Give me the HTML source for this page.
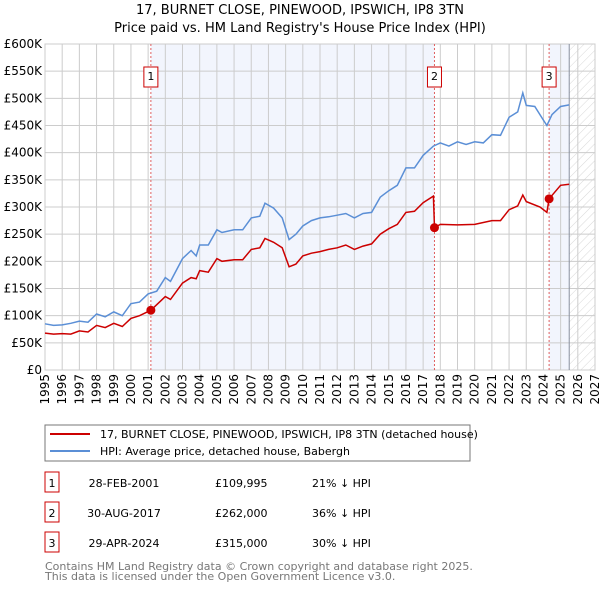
<!DOCTYPE html>
<html><head><meta charset="utf-8"><style>
body{margin:0;background:#fff;font-family:"Liberation Sans","DejaVu Sans",sans-serif;}
svg text{font-family:"DejaVu Sans","Liberation Sans",sans-serif;}
</style></head><body>
<svg id="c" width="600" height="590" xmlns="http://www.w3.org/2000/svg">
<defs><pattern id="hatch" width="6" height="6" patternUnits="userSpaceOnUse" patternTransform="rotate(45)"><line x1="0" y1="0" x2="0" y2="6" stroke="#d8d8d8" stroke-width="1"/></pattern></defs>
<text x="300" y="14" text-anchor="middle" font-size="13">17, BURNET CLOSE, PINEWOOD, IPSWICH, IP8 3TN</text>
<text x="300" y="32" text-anchor="middle" font-size="13">Price paid vs. HM Land Registry's House Price Index (HPI)</text>
<g id="bg"></g><g id="grid"></g><g id="series"></g><g id="axes"></g>
<rect x="45" y="425" width="425" height="36" fill="#fff" stroke="#777"/>
<line x1="50" y1="434" x2="90" y2="434" stroke="#cc0000" stroke-width="2"/>
<text x="100" y="438" font-size="11">17, BURNET CLOSE, PINEWOOD, IPSWICH, IP8 3TN (detached house)</text>
<line x1="50" y1="451" x2="90" y2="451" stroke="#5b8fd6" stroke-width="2"/>
<text x="100" y="455" font-size="11">HPI: Average price, detached house, Babergh</text>
<g id="table" font-size="11"></g>
<text x="45" y="570" font-size="11" fill="#777">Contains HM Land Registry data © Crown copyright and database right 2025.</text>
<text x="45" y="580" font-size="11" fill="#777">This data is licensed under the Open Government Licence v3.0.</text>
</svg>
<script>
const yTicks=[0,50,100,150,200,250,300,350,400,450,500,550,600];
const yTickLabels=["£0","£50K","£100K","£150K","£200K","£250K","£300K","£350K","£400K","£450K","£500K","£550K","£600K"];
const xYears=[1995,1996,1997,1998,1999,2000,2001,2002,2003,2004,2005,2006,2007,2008,2009,2010,2011,2012,2013,2014,2015,2016,2017,2018,2019,2020,2021,2022,2023,2024,2025,2026,2027];
const hpiT=[1995,1995.5,1996,1996.5,1997,1997.5,1998,1998.5,1999,1999.5,2000,2000.5,2001,2001.5,2002,2002.3,2003,2003.5,2003.8,2004,2004.5,2005,2005.3,2006,2006.5,2007,2007.5,2007.8,2008.3,2008.8,2009.2,2009.6,2010,2010.5,2011,2011.5,2012,2012.5,2013,2013.5,2014,2014.5,2015,2015.5,2016,2016.5,2017,2017.6,2018,2018.5,2019,2019.5,2020,2020.5,2021,2021.5,2022,2022.5,2022.8,2023,2023.5,2024,2024.2,2024.5,2025,2025.5];
const hpiV=[85,82,83,86,90,88,103,98,107,100,122,125,140,145,170,163,205,220,210,230,230,258,253,258,258,280,283,307,298,280,240,250,265,275,280,282,285,288,280,288,290,318,330,340,372,372,395,412,418,412,420,415,420,418,433,432,465,475,510,487,485,460,450,470,485,488];
const priceT=[1995,1995.5,1996,1996.5,1997,1997.5,1998,1998.5,1999,1999.5,2000,2000.5,2001.16,2002,2002.3,2003,2003.5,2003.8,2004,2004.5,2005,2005.3,2006,2006.5,2007,2007.5,2007.8,2008.3,2008.8,2009.2,2009.6,2010,2010.5,2011,2011.5,2012,2012.5,2013,2013.5,2014,2014.5,2015,2015.5,2016,2016.5,2017,2017.6,2017.66,2018,2019,2020,2021,2021.5,2022,2022.5,2022.8,2023,2023.8,2024.2,2024.33,2025,2025.5];
const priceV=[68,66,67,66,72,70,82,78,86,80,95,100,110,135,130,160,170,168,183,180,205,200,203,203,222,225,242,235,225,190,195,210,215,218,222,225,230,222,228,232,250,260,268,290,292,308,320,262,268,267,268,275,275,295,302,322,310,300,290,315,340,342];
const saleT=[2001.16,2017.66,2024.33];
const saleV=[109.995,262,315];
const saleLabels=["1","2","3"];
const saleDates=["28-FEB-2001","30-AUG-2017","29-APR-2024"];
const salePrices=["£109,995","£262,000","£315,000"];
const saleDiffs=["21% ↓ HPI","36% ↓ HPI","30% ↓ HPI"];
const NS="http://www.w3.org/2000/svg";
const X0=45,X1=595,Y0=370,Y1=44;
const xs=t=>X0+(t-1995)/32*(X1-X0);
const ys=v=>Y0-v/600*(Y0-Y1);
function mk(tag,attrs,parent){const e=document.createElementNS(NS,tag);for(const k in attrs)e.setAttribute(k,attrs[k]);parent.appendChild(e);return e;}
const bg=document.getElementById('bg'),grid=document.getElementById('grid'),ser=document.getElementById('series'),ax=document.getElementById('axes');
let r=mk('rect',{x:xs(saleT[0]),y:Y1,width:xs(saleT[1])-xs(saleT[0]),height:Y0-Y1,fill:'#f2f5fd'},bg);


r=mk('rect',{x:xs(saleT[2]),y:Y1,width:xs(2025.5)-xs(saleT[2]),height:Y0-Y1,fill:'#f2f5fd'},bg);


r=mk('rect',{x:xs(2025.5),y:Y1,width:X1-xs(2025.5),height:Y0-Y1,fill:'url(#hatch)'},bg);


yTicks.forEach((v,i)=>{
 const l=mk('line',{x1:X0,x2:X1,y1:ys(v),y2:ys(v),stroke:'#ccc'},grid);
 
 
 const t=mk('text',{x:X0-3,y:ys(v)+4,'text-anchor':'end','font-size':'12'},ax);t.textContent=yTickLabels[i];
 
 
});
xYears.forEach(y=>{
 const l=mk('line',{x1:xs(y),x2:xs(y),y1:Y1,y2:Y0,stroke:'#ccc'},grid);
 
 
 const t=mk('text',{x:0,y:0,'text-anchor':'end','font-size':'12',transform:`translate(${xs(y)+4},374) rotate(-90)`},ax);t.textContent=y;
 
 
});
let fr=mk('rect',{x:X0,y:Y1,width:X1-X0,height:Y0-Y1,fill:'none',stroke:'#ccc'},grid);


let nl=mk('line',{x1:xs(2025.5),x2:xs(2025.5),y1:Y1,y2:Y0,stroke:'#8890a0'},grid);


saleT.forEach((t,i)=>{
 const l=mk('line',{x1:xs(t),x2:xs(t),y1:Y1,y2:Y0,stroke:'#e06060','stroke-dasharray':'2,2'},ser);
 
 
 const b=mk('rect',{x:xs(t)-7,y:67,width:14,height:20,fill:'#fff',stroke:'#cc0000'},ser);
 
 
 const tx=mk('text',{x:xs(t),y:80,'text-anchor':'middle','font-size':'11'},ser);tx.textContent=saleLabels[i];
 
 
});
const path=(T,V)=>T.map((t,i)=>(i?'L':'M')+xs(t).toFixed(1)+','+ys(V[i]).toFixed(1)).join('');
let p=mk('path',{d:path(hpiT,hpiV),fill:'none',stroke:'#5b8fd6','stroke-width':1.5},ser);


p=mk('path',{d:path(priceT,priceV),fill:'none',stroke:'#cc0000','stroke-width':1.5},ser);


saleT.forEach((t,i)=>{
 const c=mk('circle',{cx:xs(t),cy:ys(saleV[i]),r:4.5,fill:'#cc0000'},ser);
 
 
});
const tb=document.getElementById('table');
saleLabels.forEach((s,i)=>{
 const y=483+i*30;
 const b=mk('rect',{x:45,y:y-11,width:14,height:20,fill:'#fff',stroke:'#cc0000'},tb);
 
 
 [[52,s,'middle'],[124,saleDates[i],'middle'],[215,salePrices[i],'start'],[312,saleDiffs[i],'start']].forEach(([x,txt,a])=>{
  const t=mk('text',{x:x,y:y+4,'text-anchor':a},tb);t.textContent=txt;
  
  
 });
});
</script>
</body></html>
